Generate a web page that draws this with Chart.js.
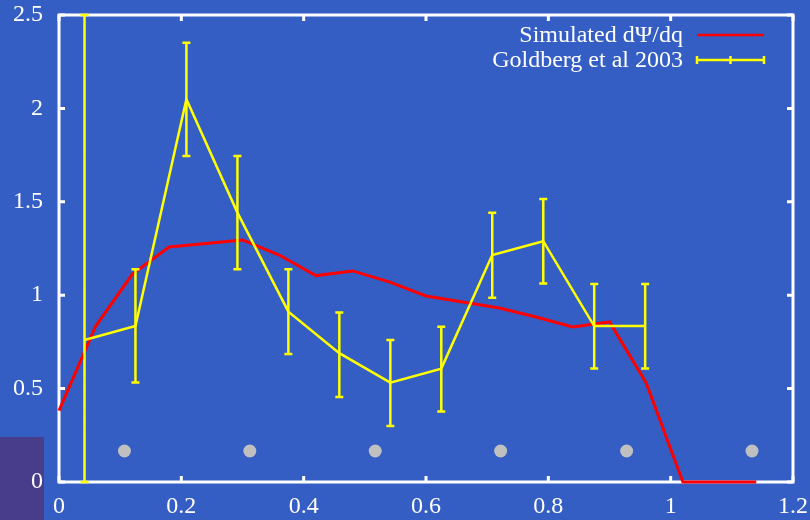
<!DOCTYPE html>
<html>
<head>
<meta charset="utf-8">
<script src="https://cdn.jsdelivr.net/npm/chart.js@4/dist/chart.umd.min.js"></script>
<style>
  html, body { margin: 0; padding: 0; background: #345ec4; }
  #wrap { width: 810px; height: 520px; }
</style>
</head>
<body>
<div id="wrap"><canvas id="c" width="810" height="520"></canvas></div>
<script>
// Simulated dΨ/dq curve
const simQ    = [0, 0.06, 0.12, 0.18, 0.24, 0.30, 0.36, 0.42, 0.48, 0.54, 0.60, 0.66, 0.72, 0.78, 0.84, 0.90, 0.96, 1.02, 1.08, 1.14];
const simVals = [0.382, 0.835, 1.113, 1.258, 1.277, 1.296, 1.215, 1.105, 1.13, 1.071, 0.996, 0.964, 0.931, 0.883, 0.830, 0.857, 0.530, 0, 0, 0];

// Goldberg et al 2003 measurements with error bars
const obsQ    = [0.0417, 0.125, 0.2083, 0.2917, 0.375, 0.4583, 0.5417, 0.625, 0.7083, 0.7917, 0.875, 0.9583];
const obsVals = [0.760, 0.835, 2.049, 1.442, 0.912, 0.690, 0.532, 0.607, 1.215, 1.289, 0.835, 0.835];
const obsLow  = [0.000, 0.532, 1.745, 1.139, 0.685, 0.455, 0.300, 0.378, 0.987, 1.062, 0.607, 0.607];
const obsHigh = [2.500, 1.139, 2.352, 1.745, 1.139, 0.908, 0.760, 0.831, 1.442, 1.515, 1.060, 1.060];

// Row of grey markers near the bottom
const markerQ = [0.107, 0.312, 0.517, 0.722, 0.928, 1.133];
const markerY = [0.166, 0.166, 0.166, 0.166, 0.166, 0.166];

// Axis ticks
const xTicks = [0, 0.2, 0.4, 0.6, 0.8, 1.0, 1.2];
const yTicks = [0, 0.5, 1.0, 1.5, 2.0, 2.5];

const BG = '#345ec4';
const FONT = '"Liberation Serif", "Times New Roman", serif';

const pairs = (xs, ys) => xs.map((x, i) => ({ x: x, y: ys[i] }));
const fmt = v => String(Number(v.toFixed(2)));

const backgroundPlugin = {
  id: 'background',
  beforeDraw(chart) {
    const ctx = chart.ctx;
    ctx.save();
    ctx.fillStyle = BG;
    ctx.fillRect(0, 0, chart.width, chart.height);
    ctx.fillStyle = '#483d8b';
    ctx.fillRect(0, 437, 44, chart.height - 437);
    ctx.restore();
  }
};

const framePlugin = {
  id: 'frame',
  beforeDatasetsDraw(chart) {
    const { ctx, chartArea: a, scales } = chart;
    ctx.save();
    ctx.strokeStyle = '#ffffff';
    ctx.lineWidth = 3;
    ctx.strokeRect(a.left, a.top, a.right - a.left, a.bottom - a.top);
    const t = 6;
    ctx.beginPath();
    xTicks.forEach(v => {
      const px = scales.x.getPixelForValue(v);
      ctx.moveTo(px, a.bottom); ctx.lineTo(px, a.bottom - t);
      ctx.moveTo(px, a.top); ctx.lineTo(px, a.top + t);
    });
    yTicks.forEach(v => {
      const py = scales.y.getPixelForValue(v);
      ctx.moveTo(a.left, py); ctx.lineTo(a.left + t, py);
      ctx.moveTo(a.right, py); ctx.lineTo(a.right - t, py);
    });
    ctx.stroke();
    ctx.restore();
  }
};

const errorBarPlugin = {
  id: 'errorBars',
  afterDatasetsDraw(chart) {
    const { ctx, scales } = chart;
    const cap = 4;
    ctx.save();
    ctx.strokeStyle = '#ffff00';
    ctx.lineWidth = 2.5;
    ctx.beginPath();
    obsQ.forEach((q, i) => {
      const px = scales.x.getPixelForValue(q);
      const lo = scales.y.getPixelForValue(obsLow[i]);
      const hi = scales.y.getPixelForValue(obsHigh[i]);
      ctx.moveTo(px, lo); ctx.lineTo(px, hi);
      ctx.moveTo(px - cap, lo); ctx.lineTo(px + cap, lo);
      ctx.moveTo(px - cap, hi); ctx.lineTo(px + cap, hi);
    });
    ctx.stroke();
    ctx.restore();
  }
};

const legendPlugin = {
  id: 'customLegend',
  afterDraw(chart) {
    const ctx = chart.ctx;
    ctx.save();
    ctx.font = '24px ' + FONT;
    ctx.fillStyle = '#ffffff';
    ctx.textAlign = 'right';
    ctx.textBaseline = 'middle';
    const tx = 683, x0 = 697, x1 = 764;
    const rows = [
      { label: 'Simulated dΨ/dq', color: '#ff0000', y: 35, bars: false },
      { label: 'Goldberg et al 2003', color: '#ffff00', y: 60, bars: true }
    ];
    rows.forEach(r => {
      ctx.fillText(r.label, tx, r.y + 1);
      ctx.strokeStyle = r.color;
      ctx.lineWidth = 2.5;
      ctx.beginPath();
      ctx.moveTo(x0, r.y); ctx.lineTo(x1, r.y);
      if (r.bars) {
        const xm = (x0 + x1) / 2;
        [x0, xm, x1].forEach(x => { ctx.moveTo(x, r.y - 4); ctx.lineTo(x, r.y + 4); });
      }
      ctx.stroke();
    });
    ctx.restore();
  }
};

new Chart(document.getElementById('c'), {
  type: 'scatter',
  data: {
    datasets: [
      {
        label: 'Goldberg et al 2003',
        data: pairs(obsQ, obsVals),
        showLine: true,
        borderColor: '#ffff00',
        backgroundColor: '#ffff00',
        borderWidth: 2.5,
        pointRadius: 0,
        tension: 0,
        clip: false,
        order: 0
      },
      {
        label: 'Simulated dΨ/dq',
        data: pairs(simQ, simVals),
        showLine: true,
        borderColor: '#ff0000',
        backgroundColor: '#ff0000',
        borderWidth: 3,
        pointRadius: 0,
        tension: 0,
        clip: false,
        order: 1
      },
      {
        label: 'markers',
        data: pairs(markerQ, markerY),
        showLine: false,
        pointRadius: 6.5,
        pointBackgroundColor: '#c0c0c0',
        pointBorderWidth: 0,
        clip: false,
        order: 2
      }
    ]
  },
  options: {
    responsive: false,
    animation: false,
    events: [],
    layout: { padding: { top: 15, right: 17, left: 0, bottom: 0 } },
    plugins: { legend: { display: false }, tooltip: { enabled: false } },
    scales: {
      x: {
        type: 'linear',
        min: 0, max: 1.2,
        grid: { display: false, drawTicks: false },
        border: { display: false },
        afterBuildTicks(scale) { scale.ticks = xTicks.map(v => ({ value: v })); },
        afterFit(scale) {
          scale.height = 38;
          scale.paddingLeft = 0; scale.paddingRight = 0;
          scale.paddingTop = 0; scale.paddingBottom = 0;
        },
        ticks: {
          color: '#ffffff',
          padding: 10,
          font: { family: FONT, size: 24 },
          maxRotation: 0,
          autoSkip: false,
          callback: v => fmt(v)
        }
      },
      y: {
        type: 'linear',
        min: 0, max: 2.5,
        grid: { display: false, drawTicks: false },
        border: { display: false },
        afterBuildTicks(scale) { scale.ticks = yTicks.map(v => ({ value: v })); },
        afterFit(scale) {
          scale.width = 59;
          scale.paddingLeft = 0; scale.paddingRight = 0;
          scale.paddingTop = 0; scale.paddingBottom = 0;
        },
        ticks: {
          color: '#ffffff',
          padding: 16,
          font: { family: FONT, size: 24 },
          autoSkip: false,
          callback: v => fmt(v)
        }
      }
    }
  },
  plugins: [backgroundPlugin, framePlugin, errorBarPlugin, legendPlugin]
});
</script>
</body>
</html>
